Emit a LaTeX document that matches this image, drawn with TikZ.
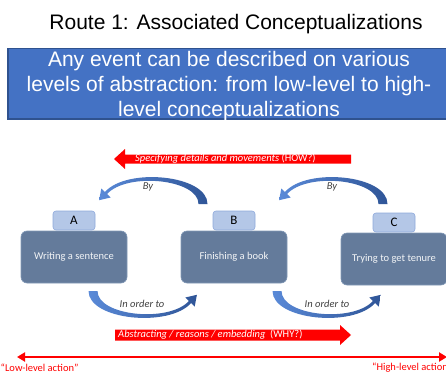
\documentclass[tikz,border=0pt]{standalone}
\usepackage{fontspec}
\setmainfont{Carlito}
\newfontfamily\arialf{Liberation Sans}
\usetikzlibrary{arrows.meta}
\definecolor{hdrblue}{HTML}{4472C4}
\definecolor{hdrborder}{HTML}{2F528F}
\definecolor{tabfill}{HTML}{B4C7E7}
\definecolor{tabborder}{HTML}{8EA9DB}
\definecolor{boxfill}{HTML}{647B9B}
\definecolor{boxborder}{HTML}{8198B6}
\definecolor{arrdark}{HTML}{2F5597}
\definecolor{arrlight}{HTML}{5A8AD8}
\definecolor{lbltext}{HTML}{404040}
\definecolor{redarrow}{HTML}{FF0000}
\begin{document}
\begin{tikzpicture}[x=1pt,y=-1pt,
  titletext/.style={font=\arialf\fontsize{21}{25}\selectfont, anchor=base, inner sep=0pt},
  hdrtext/.style={font=\arialf\fontsize{21}{25}\selectfont, text=white, anchor=base, inner sep=0pt},
  bigbox/.style={draw=boxborder, line width=0.6pt, fill=boxfill, rounded corners=6pt,
    minimum width=106pt, minimum height=52pt, inner sep=0pt, text=white!92!boxfill,
    font=\fontsize{10.5}{12}\selectfont},
  tabbox/.style={draw=tabborder, line width=0.6pt, fill=tabfill, rounded corners=3pt,
    minimum width=42pt, minimum height=19pt, inner sep=0pt,
    font=\fontsize{13}{14}\selectfont},
  arclabel/.style={text=lbltext, font=\itshape\fontsize{10.5}{12}\selectfont, inner sep=0pt},
  redlabel/.style={text=white, font=\fontsize{10.5}{12}\selectfont, anchor=west, inner sep=0pt},
  levellabel/.style={text=redarrow, font=\fontsize{10.5}{12}\selectfont, anchor=west, inner sep=0pt}
]
\useasboundingbox (0,0) rectangle (446,377);

% title
\node[titletext] (title) at (236,30) {Route 1: Associated Conceptualizations};

% header box
\draw[fill=hdrblue, draw=hdrborder, line width=1.5pt] (8,48.5) rectangle (449,119);
\node[hdrtext] (h1) at (229,66.7) {Any event can be described on various};
\node[hdrtext] (h2) at (229,92) {levels of abstraction: from low-level to high-};
\node[hdrtext] (h3) at (229,116.7) {level conceptualizations};

% top red arrow (HOW?)
\fill[redarrow] (351,154.5) -- (125,154.5) -- (125,149) -- (114,159) -- (125,169)
  -- (125,163.5) -- (351,163.5) -- cycle;
\node[redlabel] (how) at (135,159) {\textit{Specifying details and movements} (HOW?)};

% curved "By" arrows
\foreach \s in {0,180}{
  \begin{scope}[shift={(\s,0)}]
    \shade[left color=arrlight, right color=arrdark]
      (207.5,204) .. controls (207.5,175) and (127,167) .. (104.9,192)
      -- (101.3,188.5) -- (99.1,200.2) -- (110.7,197.5) -- (107.1,194)
      .. controls (127,172) and (198.5,179) .. (198.5,204) -- cycle;
  \end{scope}
}
\node[arclabel] (by1) at (148,187) {By};
\node[arclabel] (by2) at (332,187) {By};

% boxes
\node[bigbox] (wa) at (74,257) {Writing a sentence};
\node[bigbox] (wb) at (234,257) {Finishing a book};
\node[bigbox] (wc) at (394,259) {Trying to get tenure};
\node[tabbox] (ta) at (74,220.5) {A};
\node[tabbox] (tb) at (234,220.5) {B};
\node[tabbox] (tc) at (394,222.5) {C};

% curved "In order to" arrows
\foreach \s in {0,184}{
  \begin{scope}[shift={(\s,0)}]
    \begin{scope}[rotate around={180:(148,247.5)}]
      \shade[left color=arrlight, right color=arrdark]
        (207.5,204) .. controls (207.5,175) and (127,167) .. (104.9,192)
        -- (101.3,188.5) -- (99.1,200.2) -- (110.7,197.5) -- (107.1,194)
        .. controls (127,172) and (198.5,179) .. (198.5,204) -- cycle;
    \end{scope}
  \end{scope}
}
\node[arclabel] (io1) at (142,304) {In order to};
\node[arclabel] (io2) at (327,304) {In order to};

% bottom red arrow (WHY?)
\fill[redarrow] (115,329.5) -- (340,329.5) -- (340,325) -- (351,335) -- (340,345)
  -- (340,340.5) -- (115,340.5) -- cycle;
\node[redlabel] (why) at (118,335) {\textit{Abstracting / reasons / embedding}\ \ (WHY?)};

% level axis
\coordinate (lo) at (17,357);
\coordinate (hi) at (447,357);
\draw[redarrow, line width=2pt, {Triangle[length=8pt,width=9pt]}-{Triangle[length=8pt,width=9pt]}] (lo) -- (hi);
\node[levellabel] (low) at (0.5,368) {“Low-level action”};
\node[levellabel] (high) at (372,368) {“High-level action”};
\end{tikzpicture}
\end{document}
